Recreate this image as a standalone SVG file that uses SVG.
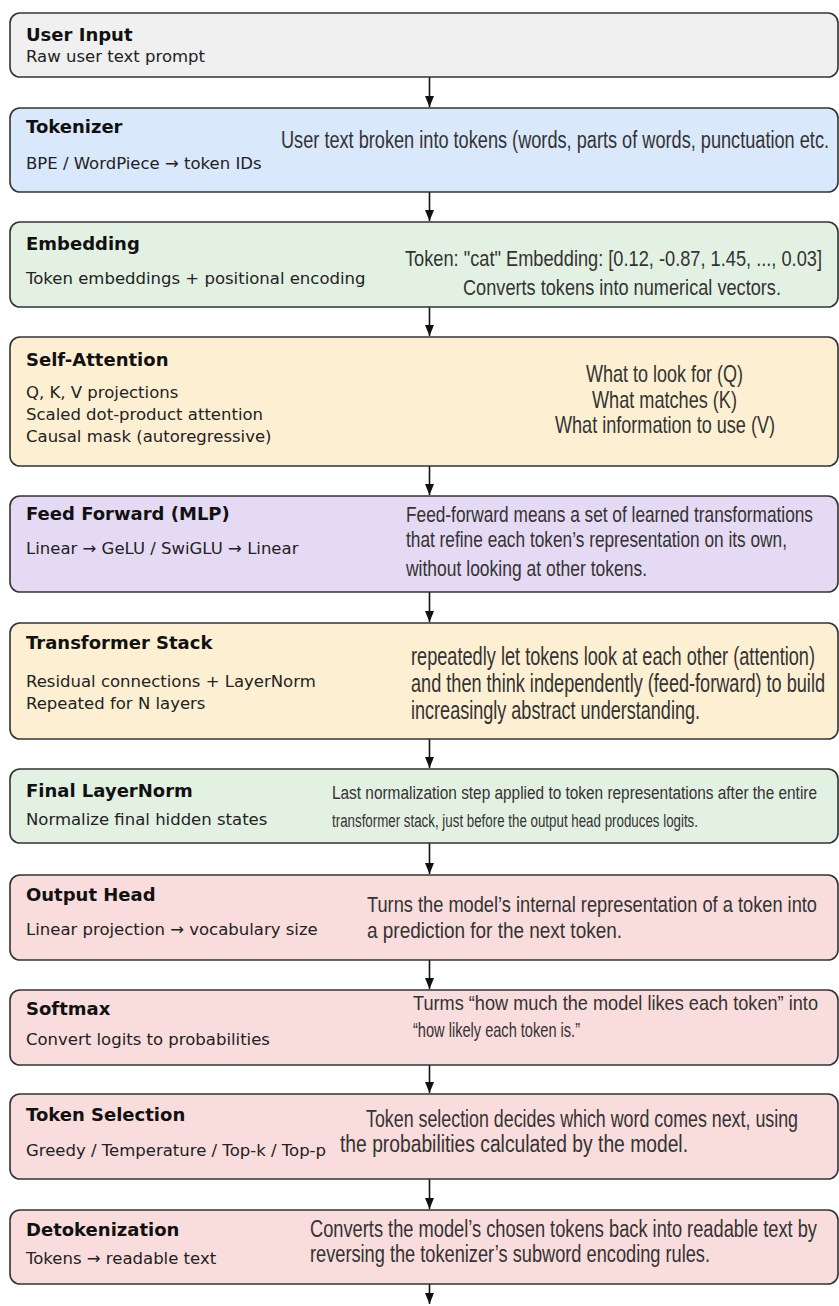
<svg xmlns="http://www.w3.org/2000/svg" width="839" height="1306" viewBox="0 0 839 1306">
<style>
.box{stroke:#333;stroke-width:1.6}
.t{font-family:"DejaVu Sans",Verdana,sans-serif;font-weight:bold;font-size:18px;fill:#111}
.s{font-family:"DejaVu Sans",Verdana,sans-serif;font-size:16.5px;fill:#222}
.r{font-family:"Liberation Sans Narrow","Liberation Sans",Arial,sans-serif;fill:#333}
.gray{fill:#f0f0f0}.blue{fill:#dae8fc}.green{fill:#e3f1e3}.orange{fill:#fdf0d2}.purple{fill:#e5daf4}.pink{fill:#f9dcdc}
.c{stroke:#111;stroke-width:1.6;fill:none}
</style>
<defs>
<marker id="ah" markerUnits="userSpaceOnUse" markerWidth="11" markerHeight="9" refX="11" refY="4.5" orient="auto">
<path d="M0,0 L11,4.5 L0,9 z" fill="#111"/>
</marker>
</defs>
<g id="connectors">
<line class="c" x1="429.5" y1="77" x2="429.5" y2="107" marker-end="url(#ah)"/>
<line class="c" x1="429.5" y1="192" x2="429.5" y2="221" marker-end="url(#ah)"/>
<line class="c" x1="429.5" y1="307" x2="429.5" y2="336" marker-end="url(#ah)"/>
<line class="c" x1="429.5" y1="466" x2="429.5" y2="495" marker-end="url(#ah)"/>
<line class="c" x1="429.5" y1="592" x2="429.5" y2="622" marker-end="url(#ah)"/>
<line class="c" x1="429.5" y1="739" x2="429.5" y2="768" marker-end="url(#ah)"/>
<line class="c" x1="429.5" y1="843" x2="429.5" y2="874" marker-end="url(#ah)"/>
<line class="c" x1="429.5" y1="960" x2="429.5" y2="989" marker-end="url(#ah)"/>
<line class="c" x1="429.5" y1="1065" x2="429.5" y2="1093" marker-end="url(#ah)"/>
<line class="c" x1="429.5" y1="1179" x2="429.5" y2="1209" marker-end="url(#ah)"/>
<line class="c" x1="429.5" y1="1284" x2="429.5" y2="1304" marker-end="url(#ah)"/>
</g>
<g id="user-input">
<rect class="box gray" x="10" y="13" width="828" height="64" rx="10"/>
<text class="t" x="26" y="41">User Input</text>
<text class="s" x="26" y="62">Raw user text prompt</text>
</g>
<g id="tokenizer">
<rect class="box blue" x="10" y="108" width="828" height="84" rx="10"/>
<text class="t" x="26" y="133">Tokenizer</text>
<text class="s" x="26" y="168.5">BPE / WordPiece → token IDs</text>
<text class="r" transform="translate(281,148) scale(1,1.35)" font-size="17.8" textLength="548" lengthAdjust="spacingAndGlyphs">User text broken into tokens (words, parts of words, punctuation etc.</text>
</g>
<g id="embedding">
<rect class="box green" x="10" y="222" width="828" height="85" rx="10"/>
<text class="t" x="26" y="250">Embedding</text>
<text class="s" x="26" y="284">Token embeddings + positional encoding</text>
<text class="r" transform="translate(405,265.5) scale(1,1.29)" font-size="17.1" textLength="417" lengthAdjust="spacingAndGlyphs">Token: "cat" Embedding: [0.12, -0.87, 1.45, ..., 0.03]</text>
<text class="r" transform="translate(463,295) scale(1,1.29)" font-size="17.1" textLength="318" lengthAdjust="spacingAndGlyphs">Converts tokens into numerical vectors.</text>
</g>
<g id="self-attention">
<rect class="box orange" x="10" y="337" width="828" height="129" rx="10"/>
<text class="t" x="26" y="366">Self-Attention</text>
<text class="s" x="26" y="397.5">Q, K, V projections</text>
<text class="s" x="26" y="419.5">Scaled dot-product attention</text>
<text class="s" x="26" y="442">Causal mask (autoregressive)</text>
<text class="r" transform="translate(586,381.5) scale(1,1.33)" font-size="17.3" textLength="157" lengthAdjust="spacingAndGlyphs">What to look for (Q)</text>
<text class="r" transform="translate(592,408) scale(1,1.33)" font-size="17.3" textLength="145" lengthAdjust="spacingAndGlyphs">What matches (K)</text>
<text class="r" transform="translate(555,433) scale(1,1.33)" font-size="17.3" textLength="220" lengthAdjust="spacingAndGlyphs">What information to use (V)</text>
</g>
<g id="feed-forward">
<rect class="box purple" x="10" y="496" width="828" height="96" rx="10"/>
<text class="t" x="26" y="520">Feed Forward (MLP)</text>
<text class="s" x="26" y="553.5">Linear → GeLU / SwiGLU → Linear</text>
<text class="r" transform="translate(406,521.5) scale(1,1.39)" font-size="16.5" textLength="407" lengthAdjust="spacingAndGlyphs">Feed-forward means a set of learned transformations</text>
<text class="r" transform="translate(406,546.5) scale(1,1.39)" font-size="16.5" textLength="381" lengthAdjust="spacingAndGlyphs">that refine each token’s representation on its own,</text>
<text class="r" transform="translate(406,576) scale(1,1.39)" font-size="16.5" textLength="241" lengthAdjust="spacingAndGlyphs">without looking at other tokens.</text>
</g>
<g id="transformer-stack">
<rect class="box orange" x="10" y="623" width="828" height="116" rx="10"/>
<text class="t" x="26" y="649">Transformer Stack</text>
<text class="s" x="26" y="687">Residual connections + LayerNorm</text>
<text class="s" x="26" y="709">Repeated for N layers</text>
<text class="r" transform="translate(411,665) scale(1,1.43)" font-size="17.5" textLength="404" lengthAdjust="spacingAndGlyphs">repeatedly let tokens look at each other (attention)</text>
<text class="r" transform="translate(411,691.5) scale(1,1.43)" font-size="17.5" textLength="414" lengthAdjust="spacingAndGlyphs">and then think independently (feed-forward) to build</text>
<text class="r" transform="translate(411,719) scale(1,1.43)" font-size="17.5" textLength="289" lengthAdjust="spacingAndGlyphs">increasingly abstract understanding.</text>
</g>
<g id="final-layernorm">
<rect class="box green" x="10" y="769" width="828" height="74" rx="10"/>
<text class="t" x="26" y="797">Final LayerNorm</text>
<text class="s" x="26" y="825">Normalize final hidden states</text>
<text class="r" transform="translate(332,799) scale(1,1.37)" font-size="12.8" textLength="485" lengthAdjust="spacingAndGlyphs">Last normalization step applied to token representations after the entire</text>
<text class="r" transform="translate(332,826.5) scale(1,1.37)" font-size="12.8" textLength="366" lengthAdjust="spacingAndGlyphs">transformer stack, just before the output head produces logits.</text>
</g>
<g id="output-head">
<rect class="box pink" x="10" y="875" width="828" height="85" rx="10"/>
<text class="t" x="26" y="901">Output Head</text>
<text class="s" x="26" y="935">Linear projection → vocabulary size</text>
<text class="r" transform="translate(367,911.5) scale(1,1.32)" font-size="17.4" textLength="450" lengthAdjust="spacingAndGlyphs">Turns the model’s internal representation of a token into</text>
<text class="r" transform="translate(367,938) scale(1,1.32)" font-size="17.4" textLength="255" lengthAdjust="spacingAndGlyphs">a prediction for the next token.</text>
</g>
<g id="softmax">
<rect class="box pink" x="10" y="990" width="828" height="75" rx="10"/>
<text class="t" x="26" y="1014.5">Softmax</text>
<text class="s" x="26" y="1045">Convert logits to probabilities</text>
<text class="r" transform="translate(413,1010) scale(1,1.12)" font-size="18.7" textLength="405" lengthAdjust="spacingAndGlyphs">Turms “how much the model likes each token” into</text>
<text class="r" transform="translate(413,1036.5) scale(1,1.53)" font-size="13.7" textLength="167" lengthAdjust="spacingAndGlyphs">“how likely each token is.”</text>
</g>
<g id="token-selection">
<rect class="box pink" x="10" y="1094" width="828" height="85" rx="10"/>
<text class="t" x="26" y="1121">Token Selection</text>
<text class="s" x="26" y="1155.5">Greedy / Temperature / Top-k / Top-p</text>
<text class="r" transform="translate(366,1126.5) scale(1,1.26)" font-size="18.3" textLength="432" lengthAdjust="spacingAndGlyphs">Token selection decides which word comes next, using</text>
<text class="r" transform="translate(340,1151.5) scale(1,1.26)" font-size="18.3" textLength="348" lengthAdjust="spacingAndGlyphs">the probabilities calculated by the model.</text>
</g>
<g id="detokenization">
<rect class="box pink" x="10" y="1210" width="828" height="74" rx="10"/>
<text class="t" x="26" y="1236">Detokenization</text>
<text class="s" x="26" y="1264">Tokens → readable text</text>
<text class="r" transform="translate(310,1236.5) scale(1,1.28)" font-size="18" textLength="507" lengthAdjust="spacingAndGlyphs">Converts the model’s chosen tokens back into readable text by</text>
<text class="r" transform="translate(310,1261.5) scale(1,1.28)" font-size="18" textLength="400" lengthAdjust="spacingAndGlyphs">reversing the tokenizer’s subword encoding rules.</text>
</g>
</svg>
